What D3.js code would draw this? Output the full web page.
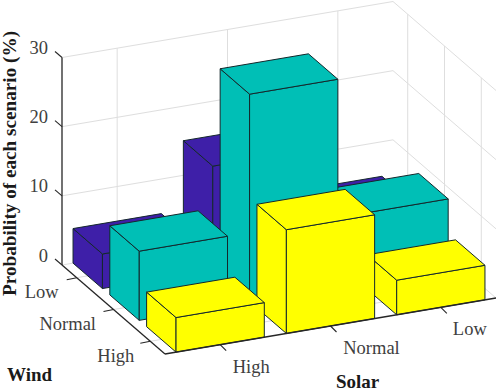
<!DOCTYPE html>
<html><head><meta charset="utf-8">
<script src="https://cdnjs.cloudflare.com/ajax/libs/d3/7.8.5/d3.min.js"></script>
<style>html,body{margin:0;padding:0;background:#fff}svg{display:block}text{font-family:"Liberation Serif",serif}</style>
</head><body><script>
const solarLabels = ["High","Normal","Low"];
const windLabels = ["Low","Normal","High"];
const zTicks = [0,10,20,30];
const lowWind = [5,15,5];
const normalWind = [10,30,10];
const highWind = [5,15,5];
const seriesColors = ["#3e1fa8","#00bfb6","#ffff00"];
const rows = [lowWind,normalWind,highWind];

const W=498,H=391,halfBar=0.4;
const svg=d3.select("body").append("svg").attr("width",W).attr("height",H);
// oblique projection: each data axis contributes a screen x and y through its own scale
const sx=d3.scaleLinear().domain([0.5,3.5]).range([0,331]);
const sy=d3.scaleLinear().domain([0.5,3.5]).range([0,-56]);
const wx=d3.scaleLinear().domain([0.6,3.4]).range([-103,0]);
const wy=d3.scaleLinear().domain([0.6,3.4]).range([-89,0]);
const zy=d3.scaleLinear().domain([0,30]).range([0,-207.5]);
const O=[165,354];
const P=(s,w,z)=>[O[0]+sx(s)+wx(w),O[1]+sy(s)+wy(w)+zy(z)];
const line=pts=>"M"+pts.map(p=>p.join(",")).join("L");
const gridC="#dedede",axisC="#262626";

function seg(a,b,c,wd){svg.append("path").attr("d",line([a,b])).attr("stroke",c).attr("stroke-width",wd).attr("fill","none");}

// grid on the two walls and the floor
zTicks.forEach(z=>{seg(P(0.5,0.6,z),P(3.5,0.6,z),gridC,1);seg(P(3.5,0.6,z),P(3.5,3.4,z),gridC,1);});
[1,2,3].forEach(s=>{seg(P(s,0.6,0),P(s,0.6,30),gridC,1);seg(P(s,0.6,0),P(s,3.4,0),gridC,1);});
[1,2,3].forEach(w=>{seg(P(3.5,w,0),P(3.5,w,30),gridC,1);seg(P(0.5,w,0),P(3.5,w,0),gridC,1);});

// bars, painted far to near
rows.forEach((vals,wi)=>{
  d3.range(2,-1,-1).forEach(si=>{
    const v=vals[si],s=si+1,w=wi+1,c=seriesColors[wi];
    const s0=s-halfBar,s1=s+halfBar,w0=w-halfBar,w1=w+halfBar;
    const faces=[
      [P(s0,w0,0),P(s0,w1,0),P(s0,w1,v),P(s0,w0,v)],
      [P(s0,w1,0),P(s1,w1,0),P(s1,w1,v),P(s0,w1,v)],
      [P(s0,w0,v),P(s0,w1,v),P(s1,w1,v),P(s1,w0,v)]
    ];
    svg.append("g").selectAll("path").data(faces).join("path")
      .attr("d",d=>line(d)+"Z").attr("fill",c).attr("stroke","#14282c").attr("stroke-width",1).attr("stroke-linejoin","round");
  });
});

// axes
seg(P(0.5,0.6,0),P(0.5,0.6,30),axisC,1.3);
seg(P(0.5,0.6,0),P(0.5,3.4,0),axisC,1.3);
seg(P(0.5,3.4,0),P(3.5,3.4,0),axisC,1.3);
zTicks.forEach(z=>{const a=P(0.5,0.6,z);seg(a,[a[0]-7,a[1]-6],axisC,1.1);
  svg.append("text").attr("x",a[0]-14).attr("y",a[1]-3.5).attr("text-anchor","end").attr("font-size",18.5).attr("fill","#404040").text(z);});
const wOff=[[-18,20],[-17.5,20],[-16,21]];
windLabels.forEach((t,i)=>{const a=P(0.5,i+1,0);seg(a,[a[0]-10,a[1]+2],axisC,1.1);
  svg.append("text").attr("x",a[0]+wOff[i][0]).attr("y",a[1]+wOff[i][1]).attr("text-anchor","end").attr("font-size",18.5).attr("fill","#404040").text(t);});
const sOff=[[31,28.4],[41,28],[29,27.7]];
solarLabels.forEach((t,i)=>{const a=P(i+1,3.4,0);seg(a,[a[0]+6,a[1]+6],axisC,1.1);
  svg.append("text").attr("x",a[0]+sOff[i][0]).attr("y",a[1]+sOff[i][1]).attr("text-anchor","middle").attr("font-size",18.5).attr("fill","#404040").text(t);});

svg.append("text").attr("transform","translate(16,296) rotate(-90)").attr("font-size",19.2).attr("font-weight","bold").attr("fill","#1a1a1a").text("Probability of each scenario (%)");
svg.append("text").attr("x",7).attr("y",381).attr("font-size",19).attr("font-weight","bold").attr("fill","#1a1a1a").text("Wind");
svg.append("text").attr("x",336).attr("y",388).attr("font-size",19).attr("font-weight","bold").attr("fill","#1a1a1a").text("Solar");
</script></body></html>
